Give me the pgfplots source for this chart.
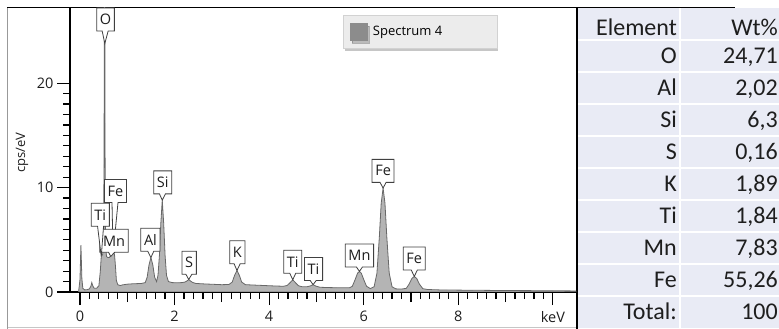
\documentclass[border=0pt]{standalone}
\usepackage{fontspec}
\setmainfont{Open Sans}
\newfontfamily\tablefont{Carlito}
\usepackage{pgfplots}
\pgfplotsset{compat=1.18}
\usetikzlibrary{shapes.callouts,shadows}
\definecolor{specfill}{HTML}{B4B4B4}
\definecolor{specline}{HTML}{686868}
\definecolor{cellbg}{HTML}{E9EBF5}
\definecolor{legpatch}{HTML}{8C8C8C}
\definecolor{txt}{HTML}{1E1E1E}
\tikzset{lab/.style={rectangle callout, draw=black!75, fill=white, line width=0.8pt,
    font=\fontsize{14.5}{16}\selectfont, text=txt, inner xsep=3.2pt, inner ysep=0pt,
    minimum height=23pt, callout pointer width=6pt}}

\pgfplotstableread{
E v
-0.03 0
0.00 1.2
0.02 4.5
0.04 1.3
0.06 0.35
0.10 0.2
0.15 0.22
0.20 0.3
0.23 0.55
0.25 0.9
0.27 0.6
0.30 0.35
0.35 0.35
0.40 0.6
0.43 2.0
0.45 3.4
0.48 3.6
0.50 5.0
0.51 14
0.52 40
0.53 14
0.54 5.0
0.56 3.4
0.59 3.3
0.62 3.3
0.65 3.5
0.68 3.6
0.71 3.8
0.73 3.6
0.75 2.5
0.77 1.1
0.80 0.7
0.85 0.62
0.90 0.68
1.00 0.75
1.10 0.78
1.20 0.8
1.30 0.82
1.38 0.9
1.42 1.4
1.46 2.6
1.50 3.3
1.54 2.6
1.58 1.4
1.62 1.0
1.65 1.6
1.68 3.5
1.71 6.6
1.74 8.8
1.77 6.6
1.80 3.5
1.83 1.6
1.87 1.0
1.95 0.9
2.05 0.88
2.15 0.9
2.22 0.95
2.27 1.08
2.30 1.2
2.33 1.08
2.38 0.92
2.45 0.82
2.60 0.78
2.80 0.74
3.00 0.7
3.15 0.72
3.22 0.95
3.27 1.6
3.32 2.06
3.37 1.6
3.42 0.95
3.50 0.7
3.70 0.66
3.90 0.62
4.10 0.58
4.30 0.55
4.38 0.62
4.44 0.88
4.50 1.17
4.56 0.88
4.62 0.6
4.70 0.5
4.80 0.5
4.87 0.58
4.93 0.7
4.99 0.56
5.08 0.45
5.30 0.42
5.50 0.4
5.70 0.4
5.76 0.55
5.82 1.2
5.87 1.8
5.91 1.97
5.95 1.8
6.00 1.2
6.06 0.55
6.14 0.33
6.22 0.5
6.28 1.8
6.33 5.2
6.37 8.5
6.41 9.95
6.45 8.5
6.49 5.2
6.54 1.8
6.60 0.5
6.68 0.3
6.80 0.28
6.90 0.35
6.96 0.75
7.02 1.3
7.07 1.49
7.12 1.3
7.18 0.75
7.25 0.32
7.35 0.24
7.60 0.2
8.00 0.18
8.50 0.16
9.00 0.14
9.50 0.13
10.00 0.12
10.50 0.1
}\spectrum

\begin{document}
\begin{tikzpicture}
\path[use as bounding box] (0pt,0pt) rectangle (779pt,329pt);
\begin{scope}[x=1pt,y=1pt]
% ---- table ----
\fill[cellbg] (577,1) rectangle (779,321);
\foreach \py in {40,72,104,136,168,200,232,264,296} {
  \draw[white,line width=2pt] (577,329-\py) -- (779,329-\py);
}
\draw[white,line width=2pt] (680,1) -- (680,321);
\begin{scope}[every node/.style={inner sep=0pt, anchor=base east, text=txt, font=\tablefont\fontsize{24}{28}\selectfont}]
\node at (677,329-35.5) {Element};
\node at (778,329-35.5) {Wt\%};
\foreach \el/\val [count=\i from 0] in {O/{24,71},Al/{2,02},Si/{6,3},S/{0,16},K/{1,89},Ti/{1,84},Mn/{7,83},Fe/{55,26},Total:/100} {
  \node at (677,329-56-7.75-32*\i) {\el};
  \node at (778,329-56-7.75-32*\i) {\val};
}
\end{scope}
% ---- frame ----
\draw[gray!45,line width=1pt] (7,1.5) -- (577,1.5);
\draw[gray!80,line width=0.8pt] (7,0) -- (7,321.5);
\draw[black,line width=1pt] (7,321.5) -- (735,321.5);
\draw[black,line width=1.3pt] (577,0) -- (577,321.5);
\end{scope}
% ---- spectrum ----
\begin{axis}[
  at={(70pt,37pt)}, anchor=south west,
  scale only axis, width=506pt, height=284pt,
  xmin=-0.211, xmax=10.49, ymin=0, ymax=27.2,
  axis lines=left,
  axis line style={-,black,line width=1.2pt},
  clip mode=individual,
  tick align=outside,
  major tick length=13pt, minor tick length=7pt,
  every tick/.style={black,line width=1.2pt},
  xtick={0,2,4,6,8,10},
  xticklabels={0,2,4,6,8,keV},
  minor x tick num=9,
  extra x ticks={1,3,5,7,9},
  extra x tick labels={},
  extra x tick style={major tick length=10pt},
  ytick={0,10,20},
  minor y tick num=9,
  /pgf/number format/assume math mode=true,
  tick label style={font=\fontsize{14.5}{16}\selectfont, text=txt},
  xticklabel style={yshift=-2.5pt},
  ylabel={cps/eV},
  ylabel style={at={(axis description cs:-0.095,0.49)}, anchor=center, font=\fontsize{13}{15}\selectfont, text=txt},
  legend style={at={(axis description cs:0.5395,0.975)}, anchor=north west,
    draw=gray!35, fill=gray!15, inner xsep=7pt, inner ysep=7.5pt,
    font=\fontsize{13}{15}\selectfont,
    drop shadow={opacity=0.45, shadow xshift=1.5pt, shadow yshift=-3pt}},
  legend cell align=left,
]
\addplot[fill=specfill, draw=specline, line width=0.8pt,
  legend image code/.code={\fill[legpatch] (0pt,-8.5pt) rectangle (17pt,8.5pt);}]
  table[x=E,y=v] {\spectrum} \closedcycle;
\addlegendentry{\makebox[118pt][l]{\hspace*{3pt}Spectrum 4}}

\node[lab, callout absolute pointer={(axis cs:0.525,23.8)}] at (axis cs:0.54,26.1) {O};
\node[lab, callout absolute pointer={(axis cs:0.70,3.7)}] at (axis cs:0.75,9.67) {Fe};
\node[lab, callout absolute pointer={(axis cs:0.65,3.4)}] at (axis cs:0.72,4.9) {Mn};
\node[lab, callout absolute pointer={(axis cs:0.45,3.4)}] at (axis cs:0.43,7.4) {Ti};
\node[lab, callout absolute pointer={(axis cs:1.50,3.3)}] at (axis cs:1.49,5.0) {Al};
\node[lab, callout absolute pointer={(axis cs:1.74,8.8)}] at (axis cs:1.75,10.5) {Si};
\node[lab, callout absolute pointer={(axis cs:2.30,1.2)}] at (axis cs:2.31,2.8) {S};
\node[lab, callout absolute pointer={(axis cs:3.32,2.06)}] at (axis cs:3.33,3.8) {K};
\node[lab, callout absolute pointer={(axis cs:4.50,1.17)}] at (axis cs:4.50,2.9) {Ti};
\node[lab, callout absolute pointer={(axis cs:4.93,0.7)}] at (axis cs:4.94,2.2) {Ti};
\node[lab, callout absolute pointer={(axis cs:5.91,1.97)}] at (axis cs:5.91,3.5) {Mn};
\node[lab, callout absolute pointer={(axis cs:6.41,9.95)}] at (axis cs:6.41,11.6) {Fe};
\node[lab, callout absolute pointer={(axis cs:7.07,1.49)}] at (axis cs:7.07,3.2) {Fe};
\end{axis}
\end{tikzpicture}
\end{document}
